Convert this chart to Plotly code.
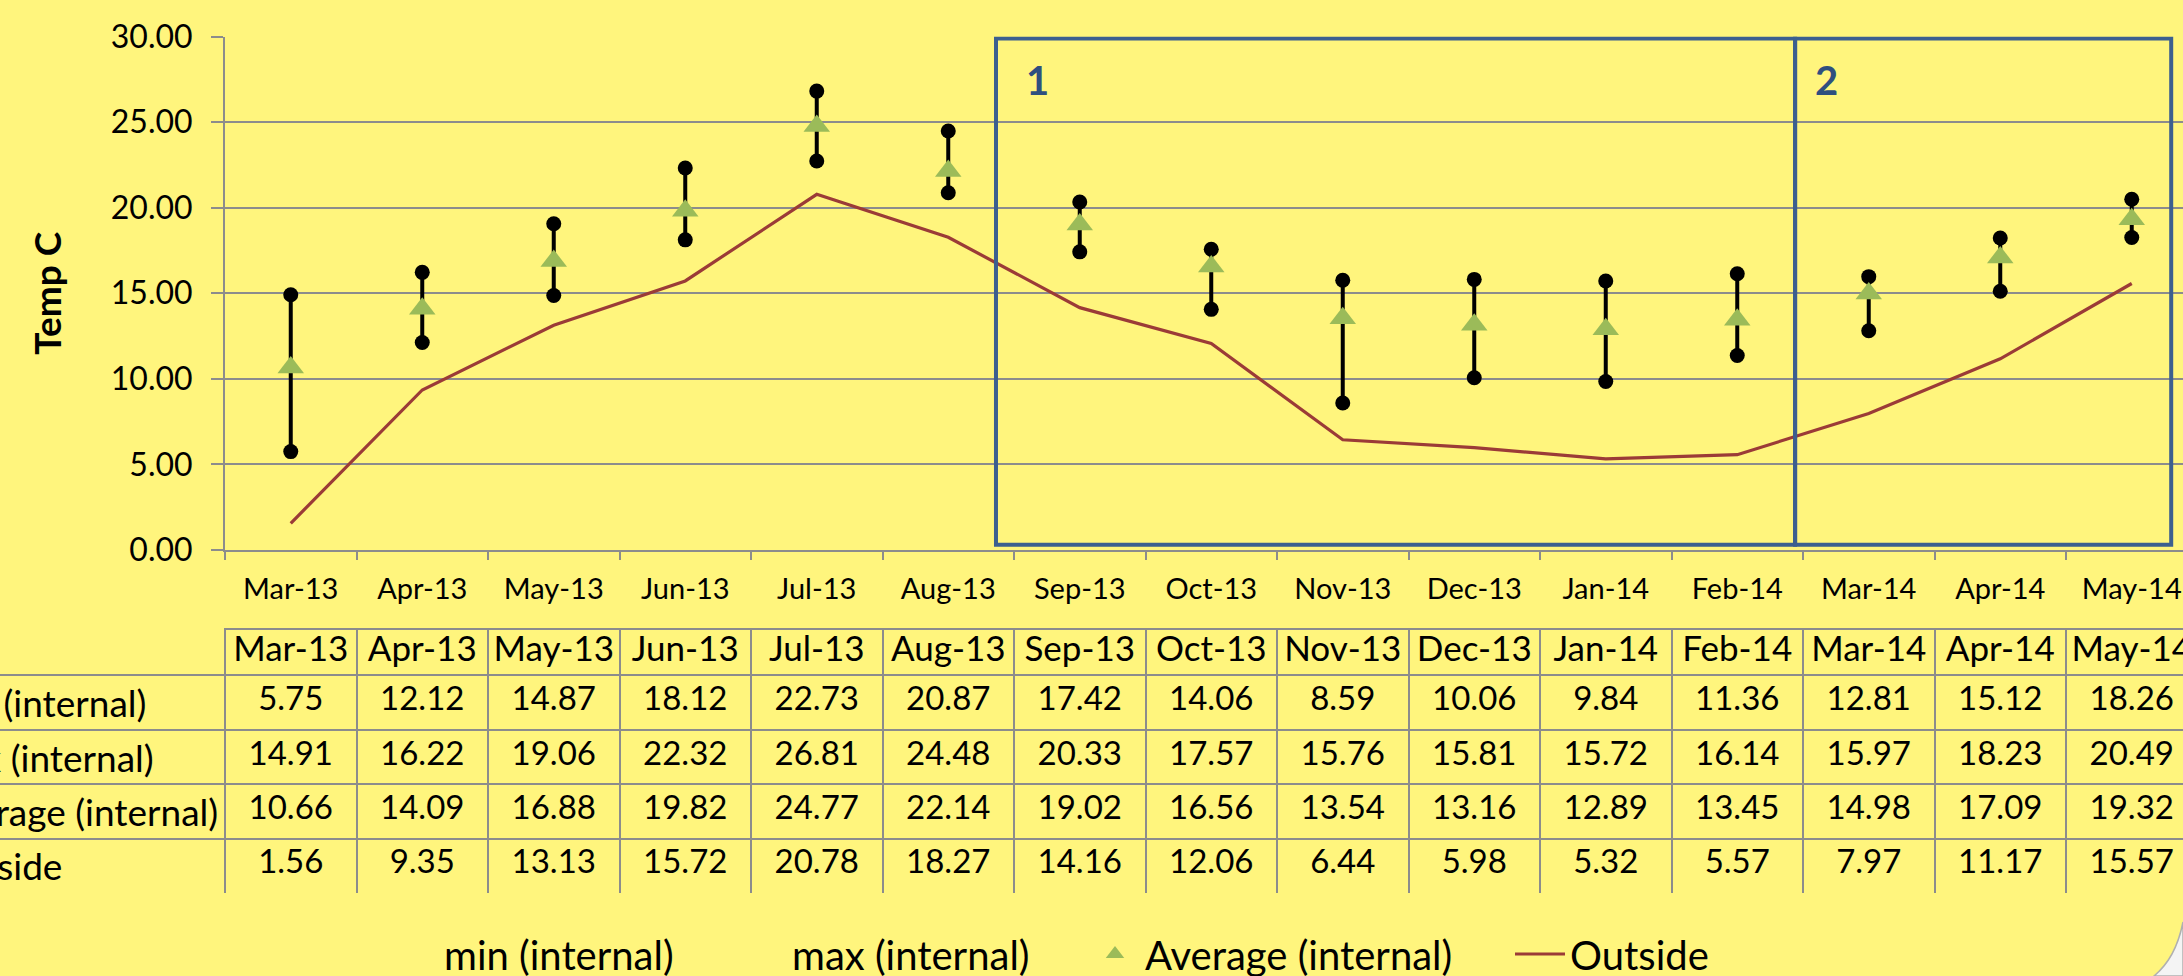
import plotly.graph_objects as go

months = ["Mar-13", "Apr-13", "May-13", "Jun-13", "Jul-13", "Aug-13", "Sep-13", "Oct-13",
          "Nov-13", "Dec-13", "Jan-14", "Feb-14", "Mar-14", "Apr-14", "May-14"]
min_internal = [5.75, 12.12, 14.87, 18.12, 22.73, 20.87, 17.42, 14.06, 8.59, 10.06, 9.84, 11.36, 12.81, 15.12, 18.26]
max_internal = [14.91, 16.22, 19.06, 22.32, 26.81, 24.48, 20.33, 17.57, 15.76, 15.81, 15.72, 16.14, 15.97, 18.23, 20.49]
avg_internal = [10.66, 14.09, 16.88, 19.82, 24.77, 22.14, 19.02, 16.56, 13.54, 13.16, 12.89, 13.45, 14.98, 17.09, 19.32]
outside = [1.56, 9.35, 13.13, 15.72, 20.78, 18.27, 14.16, 12.06, 6.44, 5.98, 5.32, 5.57, 7.97, 11.17, 15.57]
row_labels = ["min (internal)", "max (internal)", "Average (internal)", "Outside"]

W, H = 2183, 976
BG = "#FFF57D"
GRID = "#8C8C8C"
BOX = "#3C5F8F"
FONT = "Lato"

# pixel helpers (margins are zero, so paper == page)
def px(p):
    return p / W

def py(p):
    return 1 - p / H

col_w = 131.5
x_left = 225
x_end = -0.5 + (W - x_left) / col_w

fig = go.Figure()

fig.add_trace(go.Scatter(x=months, y=outside, mode="lines", name="Outside",
                         line=dict(color="#9B3B37", width=3.2), legendrank=4))

# high-low bars with end dots
hx, hy = [], []
for m, lo, hi in zip(months, min_internal, max_internal):
    hx += [m, m, None]
    hy += [lo, hi, None]
fig.add_trace(go.Scatter(x=hx, y=hy, mode="lines+markers", showlegend=False,
                         line=dict(color="black", width=4),
                         marker=dict(color="black", size=15), hoverinfo="skip"))

fig.add_trace(go.Scatter(x=months, y=min_internal, mode="lines", name="min (internal)",
                         line=dict(width=0, color="black"), legendrank=1, legendwidth=283))
fig.add_trace(go.Scatter(x=months, y=max_internal, mode="lines", name="max (internal)",
                         line=dict(width=0, color="black"), legendrank=2, legendwidth=288))
fig.add_trace(go.Scatter(x=months, y=avg_internal, mode="markers", name="Average (internal)",
                         marker=dict(symbol="triangle-up", size=23, color="#9BBB59"),
                         legendrank=3, legendwidth=360))

# data table below the chart
row_y = [23, 73, 128, 182, 236]
fig.add_trace(go.Scatter(x=months, y=[row_y[0]] * len(months), text=months, mode="text",
                         xaxis="x2", yaxis="y2", showlegend=False, hoverinfo="skip",
                         textfont=dict(size=35, color="black", family=FONT)))
for ry, vals in zip(row_y[1:], [min_internal, max_internal, avg_internal, outside]):
    fig.add_trace(go.Scatter(x=months, y=[ry] * len(months), text=[f"{v:.2f}" for v in vals],
                             mode="text", xaxis="x2", yaxis="y2", showlegend=False,
                             hoverinfo="skip",
                             textfont=dict(size=33, color="black", family=FONT)))

annotations = []
for ry, lab in zip(row_y[1:], row_labels):
    annotations.append(dict(text=lab, x=px(-68), xref="paper", xanchor="left",
                            y=ry, yref="y2", yanchor="middle", showarrow=False,
                            font=dict(size=37, color="black", family=FONT)))

# region boxes and their numbers
shapes = [
    dict(type="rect", xref="x", yref="y", x0=5.363, x1=11.44, y0=0.3, y1=29.88,
         line=dict(color=BOX, width=4)),
    dict(type="rect", xref="x", yref="y", x0=11.44, x1=14.30, y0=0.3, y1=29.88,
         line=dict(color=BOX, width=4)),
    dict(type="line", xref="x2", yref="y2", x0=-0.5, x1=14.5, y0=0, y1=0,
         line=dict(color=GRID, width=2)),
    # curled page corner
    dict(type="path", xref="paper", yref="paper",
         path=f"M {px(2183)},{py(922)} Q {px(2176)},{py(958)} {px(2154)},{py(976)} "
              f"L {px(2183)},{py(976)} Z",
         fillcolor="#F4F4F4", line=dict(color="#B0B0B0", width=1.5)),
]
for xv, lab in [(5.675, "1"), (11.675, "2")]:
    annotations.append(dict(text=f"<b>{lab}</b>", x=xv, y=27.46, xref="x", yref="y",
                            showarrow=False, font=dict(size=40, color="#2F4F7F", family=FONT)))

fig.update_layout(
    width=W, height=H,
    margin=dict(l=0, r=0, t=0, b=0, autoexpand=False),
    paper_bgcolor=BG, plot_bgcolor=BG,
    font=dict(family=FONT, color="black"),
    shapes=shapes,
    annotations=annotations,
    xaxis=dict(domain=[px(x_left), 1], type="category", categoryarray=months,
               range=[-0.5, x_end], tickson="boundaries", ticks="outside", ticklen=8,
               tickcolor=GRID, tickwidth=1.5, showline=True, linecolor=GRID, linewidth=2,
               showgrid=False, tickfont=dict(size=29), ticklabelstandoff=12,
               automargin=False),
    yaxis=dict(domain=[py(550), py(36.5)], range=[0, 30], dtick=5, tickformat=".2f",
               showgrid=True, gridcolor=GRID, gridwidth=1.5, zeroline=False,
               showline=True, linecolor=GRID, linewidth=2, ticks="outside", ticklen=12,
               tickcolor=GRID, tickwidth=1.5, tickfont=dict(size=32), ticklabelstandoff=12,
               automargin=False,
               title=dict(text="<b>Temp C</b>", font=dict(size=37), standoff=38)),
    xaxis2=dict(domain=[0, 1], anchor="y2", type="category", categoryarray=months,
                range=[-0.5 - x_left / col_w, x_end], tickson="boundaries",
                showticklabels=False, ticks="", showgrid=True, gridcolor=GRID, gridwidth=2,
                zeroline=False, showline=False, automargin=False),
    yaxis2=dict(domain=[py(893), py(628)], anchor="x2", range=[264, -1],
                tickvals=[46, 100.5, 155, 209.5, 263], showticklabels=False, ticks="",
                showgrid=True, gridcolor=GRID, gridwidth=2, zeroline=False, showline=False,
                automargin=False),
    legend=dict(orientation="h", x=px(384), xanchor="left", y=py(954), yanchor="middle",
                font=dict(size=40), bgcolor="rgba(0,0,0,0)", itemwidth=50),
    showlegend=True,
)

fig.write_html("out.html", config={"displayModeBar": False},
               post_script="document.body.style.margin='0';document.body.style.overflow='hidden';")
